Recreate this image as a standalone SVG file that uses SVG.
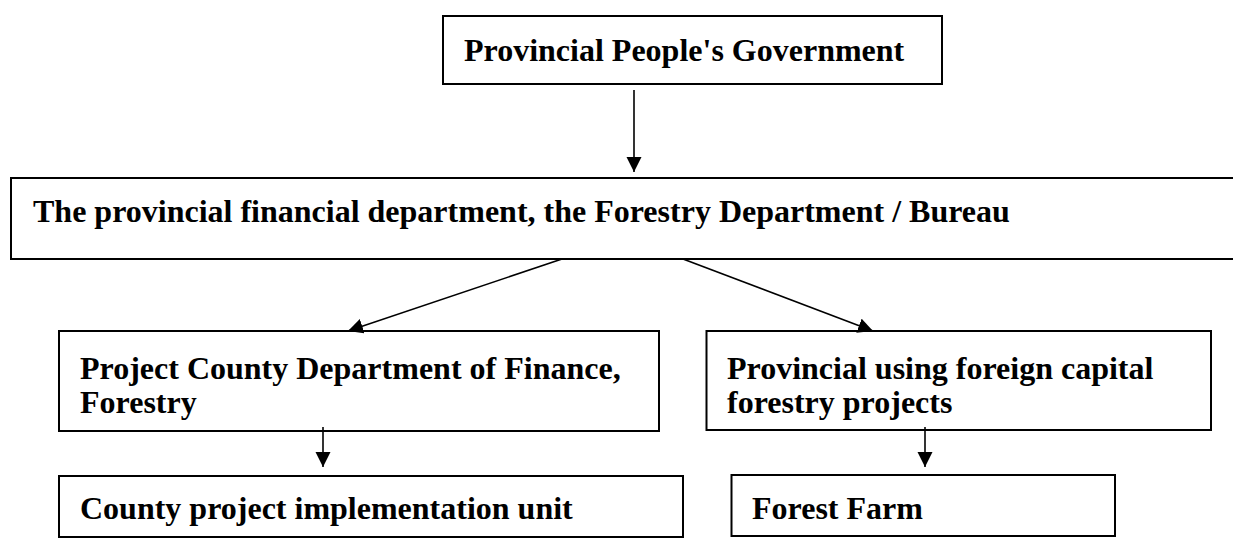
<svg xmlns="http://www.w3.org/2000/svg" width="1233" height="541" viewBox="0 0 1233 541">
  <style>
    .box { fill: #ffffff; stroke: #000000; stroke-width: 2; }
    .label { font-family: "Liberation Serif", "Times New Roman", serif; font-weight: bold; font-size: 32px; fill: #000000; }
    .link { stroke: #000000; stroke-width: 1.6; fill: none; marker-end: url(#arrow); }
  </style>
  <defs>
    <marker id="arrow" markerUnits="userSpaceOnUse" markerWidth="16" markerHeight="16" refX="15" refY="7.5" orient="auto">
      <path d="M0,0 L15,7.5 L0,15 Z" fill="#000000"/>
    </marker>
  </defs>
  <rect width="1233" height="541" fill="#ffffff"/>

  <!-- organisation units -->
  <g id="provincial-government">
    <rect class="box" x="443" y="16" width="499" height="68"/>
    <text class="label" x="464" y="61">Provincial People's Government</text>
  </g>
  <g id="finance-forestry-department">
    <rect class="box" x="11" y="178" width="1240" height="81"/>
    <text class="label" x="33" y="222">The provincial financial department, the Forestry Department / Bureau</text>
  </g>
  <g id="county-finance-forestry">
    <rect class="box" x="59" y="331" width="600" height="100"/>
    <text class="label" x="80" y="379">Project County Department of Finance,</text>
    <text class="label" x="80" y="413">Forestry</text>
  </g>
  <g id="foreign-capital-projects">
    <rect class="box" x="706.5" y="331" width="504.5" height="99"/>
    <text class="label" x="727" y="379">Provincial using foreign capital</text>
    <text class="label" x="727" y="413">forestry projects</text>
  </g>
  <g id="county-implementation-unit">
    <rect class="box" x="59" y="476" width="624" height="61"/>
    <text class="label" x="80" y="519">County project implementation unit</text>
  </g>
  <g id="forest-farm">
    <rect class="box" x="731.5" y="475" width="383.5" height="61"/>
    <text class="label" x="752" y="519">Forest Farm</text>
  </g>

  <!-- reporting lines -->
  <g id="connectors">
    <line class="link" x1="634" y1="90" x2="634" y2="172"/>
    <line class="link" x1="562" y1="259" x2="348" y2="331"/>
    <line class="link" x1="683" y1="259" x2="873" y2="331"/>
    <line class="link" x1="323" y1="427" x2="323" y2="467"/>
    <line class="link" x1="925" y1="427" x2="925" y2="467"/>
  </g>
</svg>
